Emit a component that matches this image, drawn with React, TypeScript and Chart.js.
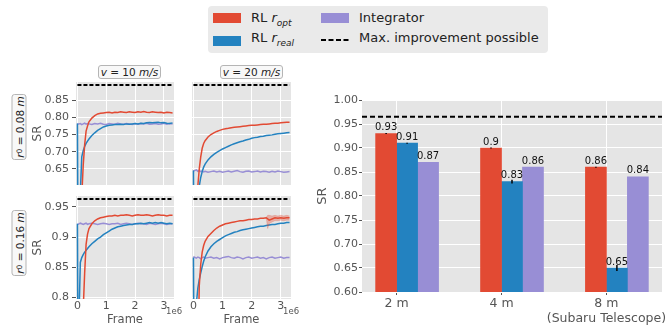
import React, { useEffect, useRef } from "react";
import { Chart, registerables } from "chart.js";
Chart.register(...registerables);

const FONT = "'DejaVu Sans', sans-serif";
const RED = "#E24A33";
const BLUE = "#2382C0";
const PURPLE = "#988ED5";
const PLOT_BG = "#E5E5E5";
const TICK = "#555555";

// ---- training curves (frames in units of 1e6) ----
const FRAMES = [0, 0.02, 0.1, 0.15, 0.2, 0.25, 0.3, 0.35, 0.4, 0.5, 0.6, 0.7, 0.8, 0.9, 1.0, 1.1, 1.2, 1.3, 1.4, 1.5, 1.6, 1.7, 1.8, 1.9, 2.0, 2.1, 2.2, 2.3, 2.4, 2.5, 2.6, 2.7, 2.8, 2.9, 3.0, 3.1, 3.2, 3.3];
const FRAME_TICKS = [0, 1, 2, 3];
const TOP_Y_TICKS = [0.65, 0.7, 0.75, 0.8, 0.85];
const TOP_Y_LABELS = ["0.65", "0.70", "0.75", "0.80", "0.85"];
const BOTTOM_Y_TICKS = [0.8, 0.85, 0.9, 0.95];
const BOTTOM_Y_LABELS = ["0.8", "0.85", "0.9", "0.95"];
const MAX_SR_R008 = 0.894;
const MAX_SR_R016 = 0.963;

// r0 = 0.08 m, v = 10 m/s
const A_RED = [0.40, 0.40, 0.45, 0.57, 0.66, 0.72, 0.76, 0.775, 0.787, 0.798, 0.805, 0.81, 0.812, 0.813, 0.814, 0.815, 0.813, 0.815, 0.814, 0.816, 0.815, 0.814, 0.816, 0.815, 0.814, 0.816, 0.815, 0.817, 0.815, 0.814, 0.816, 0.815, 0.814, 0.815, 0.813, 0.815, 0.814, 0.813];
const A_BLUE = [0.782, 0.40, 0.58, 0.685, 0.703, 0.715, 0.724, 0.731, 0.737, 0.747, 0.755, 0.762, 0.767, 0.772, 0.775, 0.777, 0.778, 0.779, 0.779, 0.78, 0.779, 0.781, 0.78, 0.781, 0.782, 0.781, 0.783, 0.782, 0.784, 0.785, 0.784, 0.785, 0.786, 0.784, 0.785, 0.783, 0.782, 0.784];
const A_PURPLE = [0.782, 0.780, 0.782, 0.779, 0.781, 0.783, 0.780, 0.782, 0.781, 0.779, 0.782, 0.781, 0.783, 0.780, 0.779, 0.782, 0.781, 0.780, 0.783, 0.781, 0.780, 0.782, 0.781, 0.779, 0.782, 0.780, 0.782, 0.781, 0.783, 0.780, 0.781, 0.782, 0.780, 0.781, 0.783, 0.780, 0.782, 0.781];
// r0 = 0.08 m, v = 20 m/s
const B_RED = [0.40, 0.40, 0.45, 0.60, 0.65, 0.685, 0.71, 0.724, 0.732, 0.743, 0.75, 0.755, 0.759, 0.762, 0.765, 0.767, 0.768, 0.77, 0.771, 0.772, 0.773, 0.774, 0.775, 0.776, 0.777, 0.777, 0.778, 0.779, 0.78, 0.78, 0.781, 0.782, 0.783, 0.783, 0.784, 0.785, 0.786, 0.786];
const B_BLUE = [0.645, 0.40, 0.45, 0.57, 0.60, 0.625, 0.642, 0.655, 0.664, 0.676, 0.685, 0.692, 0.698, 0.703, 0.708, 0.712, 0.716, 0.72, 0.723, 0.726, 0.729, 0.731, 0.734, 0.736, 0.739, 0.741, 0.742, 0.744, 0.745, 0.747, 0.748, 0.749, 0.751, 0.752, 0.753, 0.754, 0.755, 0.756];
const B_PURPLE = [0.646, 0.644, 0.647, 0.643, 0.645, 0.642, 0.644, 0.641, 0.643, 0.640, 0.642, 0.644, 0.641, 0.643, 0.640, 0.642, 0.644, 0.641, 0.643, 0.645, 0.642, 0.640, 0.643, 0.644, 0.641, 0.642, 0.644, 0.641, 0.643, 0.642, 0.640, 0.643, 0.641, 0.644, 0.642, 0.640, 0.641, 0.642];
// r0 = 0.16 m, v = 10 m/s
const C_RED = [0.70, 0.70, 0.70, 0.75, 0.78, 0.84, 0.888, 0.905, 0.914, 0.922, 0.927, 0.93, 0.932, 0.933, 0.934, 0.935, 0.935, 0.936, 0.935, 0.936, 0.936, 0.937, 0.936, 0.935, 0.936, 0.937, 0.936, 0.936, 0.937, 0.936, 0.935, 0.936, 0.937, 0.936, 0.936, 0.935, 0.936, 0.936];
const C_BLUE = [0.922, 0.70, 0.858, 0.866, 0.871, 0.875, 0.878, 0.881, 0.884, 0.889, 0.893, 0.897, 0.90, 0.904, 0.907, 0.91, 0.913, 0.915, 0.917, 0.918, 0.919, 0.92, 0.921, 0.921, 0.922, 0.922, 0.923, 0.922, 0.923, 0.924, 0.923, 0.924, 0.923, 0.924, 0.923, 0.922, 0.923, 0.922];
const C_PURPLE = [0.922, 0.921, 0.923, 0.922, 0.921, 0.922, 0.923, 0.921, 0.922, 0.923, 0.922, 0.921, 0.922, 0.923, 0.922, 0.921, 0.922, 0.922, 0.923, 0.921, 0.922, 0.923, 0.922, 0.921, 0.922, 0.923, 0.922, 0.922, 0.921, 0.923, 0.922, 0.921, 0.922, 0.923, 0.922, 0.921, 0.922, 0.922];
// r0 = 0.16 m, v = 20 m/s
const D_RED = [0.70, 0.70, 0.70, 0.70, 0.82, 0.855, 0.875, 0.886, 0.893, 0.901, 0.906, 0.911, 0.915, 0.918, 0.92, 0.922, 0.923, 0.924, 0.925, 0.926, 0.927, 0.927, 0.928, 0.929, 0.929, 0.93, 0.93, 0.931, 0.931, 0.932, 0.928, 0.93, 0.932, 0.931, 0.932, 0.931, 0.932, 0.932];
const D_BLUE = [0.866, 0.70, 0.79, 0.815, 0.83, 0.841, 0.851, 0.86, 0.867, 0.877, 0.884, 0.889, 0.893, 0.896, 0.899, 0.902, 0.904, 0.906, 0.908, 0.909, 0.911, 0.912, 0.913, 0.914, 0.915, 0.916, 0.917, 0.918, 0.918, 0.919, 0.92, 0.921, 0.921, 0.922, 0.923, 0.923, 0.924, 0.924];
const D_PURPLE = [0.866, 0.867, 0.865, 0.867, 0.866, 0.864, 0.866, 0.867, 0.865, 0.866, 0.867, 0.865, 0.866, 0.864, 0.866, 0.867, 0.868, 0.866, 0.865, 0.867, 0.866, 0.864, 0.866, 0.867, 0.865, 0.866, 0.867, 0.865, 0.866, 0.864, 0.866, 0.867, 0.865, 0.866, 0.867, 0.865, 0.866, 0.866];
// spread of RL r_opt after the restart in the r0 = 0.16 m, v = 20 m/s run
const D_BAND_FRAMES = [2.5, 2.55, 2.6, 2.7, 2.8, 2.9, 3.0, 3.1, 3.2, 3.3];
const D_RED_HIGH = [0.933, 0.936, 0.936, 0.935, 0.936, 0.935, 0.936, 0.935, 0.936, 0.935];
const D_RED_LOW = [0.931, 0.914, 0.922, 0.925, 0.927, 0.927, 0.928, 0.927, 0.928, 0.928];

// ---- final SR bar chart ----
const BAR_CATEGORIES = ["2 m", "4 m", "8 m"];
const BAR_SUBLABELS = ["", "", "(Subaru Telescope)"];
const SR_RL_OPT = [0.93, 0.9, 0.86];
const SR_RL_REAL = [0.91, 0.83, 0.65];
const SR_INTEGRATOR = [0.87, 0.86, 0.84];
const ERR_RL_OPT = [0.001, 0.001, 0.001];
const ERR_RL_REAL = [0.001, 0.004, 0.006];
const ERR_INTEGRATOR = [0, 0, 0];
const BAR_Y_TICKS = [0.6, 0.65, 0.7, 0.75, 0.8, 0.85, 0.9, 0.95, 1.0];
const MAX_SR_BAR = 0.965;

const plotBg = {
  id: "plotBg",
  beforeDraw(chart: any) {
    const { ctx, chartArea: a } = chart;
    ctx.save();
    ctx.fillStyle = PLOT_BG;
    ctx.fillRect(a.left, a.top, a.right - a.left, a.bottom - a.top);
    ctx.restore();
  },
};

type Band = { frames: number[]; low: number[]; high: number[]; color: string };
type Panel = {
  red: number[]; blue: number[]; purple: number[]; maxSr: number;
  yMin: number; yMax: number; yTicks: number[]; yLabels: string[];
  showY: boolean; showX: boolean; band?: Band;
};

const series = (vals: number[]) => FRAMES.map((x, i) => ({ x, y: vals[i] }));
const lineDs = (vals: number[], color: string) => ({
  data: series(vals), borderColor: color, borderWidth: 1.5, pointRadius: 0, tension: 0, fill: false,
});

function lineConfig(p: Panel): any {
  const datasets: any[] = [
    { data: FRAMES.map((x) => ({ x, y: p.maxSr })), borderColor: "#000", borderWidth: 2, borderDash: [4, 2], pointRadius: 0 },
    lineDs(p.red, RED),
  ];
  if (p.band) {
    const b = p.band;
    datasets.push(
      { data: b.frames.map((x, i) => ({ x, y: b.high[i] })), borderColor: b.color, backgroundColor: b.color, borderWidth: 0.6, pointRadius: 0, fill: "+1" },
      { data: b.frames.map((x, i) => ({ x, y: b.low[i] })), borderColor: b.color, borderWidth: 0.6, pointRadius: 0, fill: false },
    );
  }
  datasets.push(lineDs(p.blue, BLUE), lineDs(p.purple, PURPLE));
  return {
    type: "line",
    data: { datasets },
    options: {
      animation: false, responsive: false, events: [],
      layout: { padding: { top: 2, right: 1, left: p.showY ? 0 : 10, bottom: 0 } },
      plugins: { legend: { display: false }, tooltip: { enabled: false }, filler: { propagate: false } },
      scales: {
        x: {
          type: "linear", min: -0.05, max: 3.35,
          afterBuildTicks: (s: any) => { s.ticks = FRAME_TICKS.map((value) => ({ value })); },
          afterFit: (s: any) => { s.height = p.showX ? 28 : 0; s.paddingLeft = 0; s.paddingRight = 0; },
          grid: { color: "#ffffff", lineWidth: 1, drawTicks: false },
          border: { display: false },
          ticks: { display: p.showX, color: TICK, font: { family: FONT, size: 11 }, padding: 1, maxRotation: 0, autoSkip: false, callback: (v: number) => String(v) },
          title: { display: p.showX, text: "Frame", color: TICK, font: { family: FONT, size: 11.5 }, padding: { top: 0, bottom: 0 } },
        },
        y: {
          type: "linear", min: p.yMin, max: p.yMax,
          afterBuildTicks: (s: any) => { s.ticks = p.yTicks.map((value) => ({ value })); },
          afterFit: (s: any) => { s.width = p.showY ? 45 : 0; s.paddingTop = 0; s.paddingBottom = 0; },
          grid: { color: "#ffffff", lineWidth: 1, drawTicks: p.showY, tickLength: 4, tickColor: TICK },
          border: { display: false },
          ticks: { display: p.showY, color: TICK, font: { family: FONT, size: 11 }, padding: 3, callback: (_v: number, i: number) => p.yLabels[i] },
          title: { display: p.showY, text: "SR", color: TICK, font: { family: FONT, size: 12 }, padding: 0 },
        },
      },
    },
    plugins: [plotBg],
  };
}

const BAR_VALUES = [SR_RL_OPT, SR_RL_REAL, SR_INTEGRATOR];
const BAR_ERRORS = [ERR_RL_OPT, ERR_RL_REAL, ERR_INTEGRATOR];
const BAR_COLORS = [RED, BLUE, PURPLE];
const BAR_SHIFT = [-0.1, 0.1, 0.3];

const barExtras = {
  id: "barExtras",
  afterDatasetsDraw(chart: any) {
    const { ctx, chartArea: a } = chart;
    const ys = chart.scales.y;
    ctx.save();
    ctx.strokeStyle = "#000";
    ctx.lineWidth = 2;
    ctx.setLineDash([5, 3]);
    const my = ys.getPixelForValue(MAX_SR_BAR);
    ctx.beginPath();
    ctx.moveTo(a.left, my);
    ctx.lineTo(a.right, my);
    ctx.stroke();
    ctx.setLineDash([]);
    BAR_VALUES.forEach((vals, di) => {
      const meta = chart.getDatasetMeta(di);
      vals.forEach((v, j) => {
        const bar = meta.data[j];
        const e = BAR_ERRORS[di][j];
        if (e > 0) {
          ctx.strokeStyle = "#000";
          ctx.lineWidth = 1.5;
          ctx.beginPath();
          ctx.moveTo(bar.x, ys.getPixelForValue(v + e));
          ctx.lineTo(bar.x, ys.getPixelForValue(v - e));
          ctx.stroke();
        }
        ctx.fillStyle = "#111";
        ctx.font = `10px ${FONT}`;
        ctx.textAlign = "center";
        ctx.textBaseline = "bottom";
        ctx.fillText(String(v), bar.x, ys.getPixelForValue(v) - 1);
      });
    });
    ctx.restore();
  },
};

function barConfig(): any {
  return {
    type: "bar",
    data: {
      datasets: BAR_VALUES.map((vals, di) => ({
        data: vals.map((y, i) => ({ x: i + BAR_SHIFT[di], y })),
        backgroundColor: BAR_COLORS[di],
        barThickness: 21,
        grouped: false,
      })),
    },
    options: {
      animation: false, responsive: false, events: [],
      layout: { padding: { top: 5, right: 9, left: 0, bottom: 0 } },
      plugins: { legend: { display: false }, tooltip: { enabled: false } },
      scales: {
        x: {
          type: "linear", min: -0.33, max: 2.53, offset: false,
          afterBuildTicks: (s: any) => { s.ticks = BAR_CATEGORIES.map((_c, i) => ({ value: i })); },
          afterFit: (s: any) => { s.height = 35; s.paddingLeft = 0; s.paddingRight = 0; },
          grid: { color: "#ffffff", offset: false, drawTicks: true, tickLength: 3, tickColor: TICK },
          border: { display: false },
          ticks: {
            color: TICK, font: { family: FONT, size: 12.5 }, padding: 1, autoSkip: false, maxRotation: 0,
            callback: (_v: number, i: number) => (BAR_SUBLABELS[i] ? [BAR_CATEGORIES[i], BAR_SUBLABELS[i]] : BAR_CATEGORIES[i]),
          },
        },
        y: {
          type: "linear", min: 0.6, max: 1.0,
          afterBuildTicks: (s: any) => { s.ticks = BAR_Y_TICKS.map((value) => ({ value })); },
          afterFit: (s: any) => { s.width = 47; s.paddingTop = 0; s.paddingBottom = 0; },
          grid: { color: "#ffffff", drawTicks: true, tickLength: 3, tickColor: TICK },
          border: { display: false },
          ticks: { color: TICK, font: { family: FONT, size: 11 }, padding: 1, callback: (v: number) => v.toFixed(2) },
          title: { display: true, text: "SR", color: TICK, font: { family: FONT, size: 13 }, padding: 0 },
        },
      },
    },
    plugins: [plotBg, barExtras],
  };
}

function ChartCanvas({ left, top, width, height, make }: { left: number; top: number; width: number; height: number; make: () => any }) {
  const ref = useRef<HTMLCanvasElement>(null);
  useEffect(() => {
    const chart = new Chart(ref.current as HTMLCanvasElement, make());
    return () => chart.destroy();
  }, []);
  return <canvas ref={ref} width={width} height={height} style={{ position: "absolute", left, top, width, height }} />;
}

const abs = (left: number, top: number, extra: any = {}) => ({ position: "absolute" as const, left, top, ...extra });

const boxStyle = { border: "1px solid #b5b5b5", borderRadius: 3, background: "#f8f8f8", boxSizing: "border-box", display: "flex", alignItems: "center", justifyContent: "center", fontSize: 10.5, color: "#222", whiteSpace: "nowrap" };

function TitleBox({ left, top, width, children }: any) {
  return <div style={abs(left, top, { width, height: 14, ...boxStyle })}>{children}</div>;
}

function RowBox({ cx, cy, children }: any) {
  return (
    <div style={abs(cx, cy, { transform: "translate(-50%, -50%) rotate(-90deg)", width: 66, height: 15, ...boxStyle })}>
      {children}
    </div>
  );
}

export default function App() {
  const swatch = (left: number, top: number, color: string) => <div style={abs(left, top, { width: 28, height: 10, background: color })} />;
  const legendText = (left: number, top: number, content: any) => (
    <div style={abs(left, top, { fontSize: 13, lineHeight: "16px", color: "#222", whiteSpace: "nowrap" })}>{content}</div>
  );
  const sub = (t: string) => <sub style={{ fontSize: 7.5, lineHeight: 0 }}>{t}</sub>;
  return (
    <div style={{ position: "fixed", left: 0, top: 0, width: 671, height: 327, background: "#fff", overflow: "hidden", fontFamily: FONT }}>
      <ChartCanvas left={31} top={80} width={144} height={105} make={() => lineConfig({ red: A_RED, blue: A_BLUE, purple: A_PURPLE, maxSr: MAX_SR_R008, yMin: 0.603, yMax: 0.903, yTicks: TOP_Y_TICKS, yLabels: TOP_Y_LABELS, showY: true, showX: false })} />
      <ChartCanvas left={182} top={80} width={110} height={105} make={() => lineConfig({ red: B_RED, blue: B_BLUE, purple: B_PURPLE, maxSr: MAX_SR_R008, yMin: 0.603, yMax: 0.903, yTicks: TOP_Y_TICKS, yLabels: TOP_Y_LABELS, showY: false, showX: false })} />
      <ChartCanvas left={31} top={194} width={144} height={133} make={() => lineConfig({ red: C_RED, blue: C_BLUE, purple: C_PURPLE, maxSr: MAX_SR_R016, yMin: 0.7975, yMax: 0.968, yTicks: BOTTOM_Y_TICKS, yLabels: BOTTOM_Y_LABELS, showY: true, showX: true })} />
      <ChartCanvas left={182} top={194} width={110} height={133} make={() => lineConfig({ red: D_RED, blue: D_BLUE, purple: D_PURPLE, maxSr: MAX_SR_R016, yMin: 0.7975, yMax: 0.968, yTicks: BOTTOM_Y_TICKS, yLabels: BOTTOM_Y_LABELS, showY: false, showX: true, band: { frames: D_BAND_FRAMES, low: D_RED_LOW, high: D_RED_HIGH, color: "rgba(226,74,51,0.35)" } })} />
      <ChartCanvas left={315} top={95} width={356} height={232} make={barConfig} />

      <TitleBox left={98} top={65} width={63}><i>v</i>&nbsp;=&nbsp;10&nbsp;<i>m/s</i></TitleBox>
      <TitleBox left={220} top={65} width={63}><i>v</i>&nbsp;=&nbsp;20&nbsp;<i>m/s</i></TitleBox>
      <RowBox cx={19} cy={127}><i>r</i>{sub("0")}&nbsp;=&nbsp;0.08&nbsp;<i>m</i></RowBox>
      <RowBox cx={19} cy={243}><i>r</i>{sub("0")}&nbsp;=&nbsp;0.16&nbsp;<i>m</i></RowBox>
      <div style={abs(166, 306, { fontSize: 8.5, color: TICK })}>1e6</div>
      <div style={abs(283, 306, { fontSize: 8.5, color: TICK })}>1e6</div>

      <div style={abs(208, 6, { width: 340, height: 47, background: "#EAEAEA", borderRadius: 4 })} />
      {swatch(213, 13, RED)}
      {swatch(213, 36, BLUE)}
      {swatch(321, 13, PURPLE)}
      <svg style={abs(321, 36, {})} width={28} height={8}>
        <line x1={0} y1={4} x2={28} y2={4} stroke="#000" strokeWidth={2} strokeDasharray="5 2.5" />
      </svg>
      {legendText(251, 10, <span>RL <i>r</i><sub style={{ fontSize: 9 }}><i>opt</i></sub></span>)}
      {legendText(251, 30, <span>RL <i>r</i><sub style={{ fontSize: 9 }}><i>real</i></sub></span>)}
      {legendText(359, 10, "Integrator")}
      {legendText(359, 30, "Max. improvement possible")}
    </div>
  );
}
